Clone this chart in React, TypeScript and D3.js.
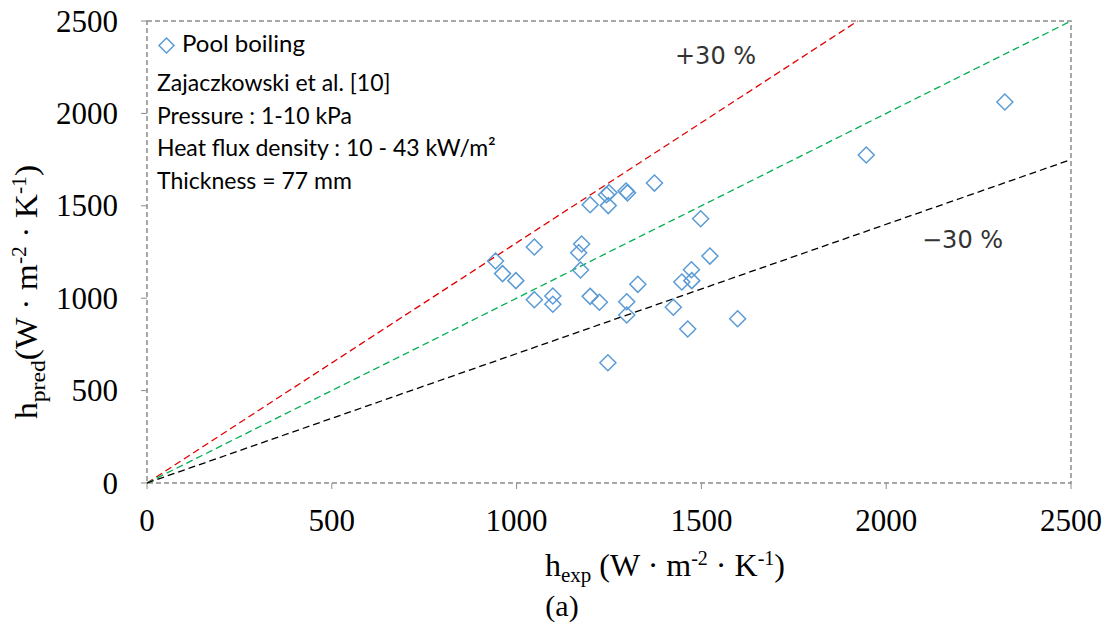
import React from "react";
import * as d3 from "d3";

const hExp = [943, 962, 998, 1048, 1048, 1098, 1098, 1176, 1168, 1173, 1199, 1224, 1199, 1243, 1250, 1248, 1296, 1300, 1373, 1498, 1523, 1473, 1447, 1474, 1328, 1298, 1298, 1424, 1463, 1598, 1247, 1946, 2321];
const hPred = [1201, 1133, 1095, 1277, 992, 1012, 967, 1293, 1246, 1153, 1010, 978, 1506, 1560, 1571, 1501, 1580, 1570, 1623, 1430, 1228, 1154, 1088, 1095, 1075, 981, 909, 951, 833, 889, 651, 1775, 2062];
const ticks = [0, 500, 1000, 1500, 2000, 2500];
const legendLines = ["Zajaczkowski et al. [10]", "Pressure : 1-10 kPa", "Heat flux density : 10 - 43 kW/m²", "Thickness = 77 mm"];
const bands = [
  { k: 1.3, color: "#e00000", label: "+30 %" },
  { k: 1.0, color: "#00b050", label: "" },
  { k: 0.7, color: "#000000", label: "−30 %" },
];

export default function App() {
  const W = 1110, H = 626;
  const x = d3.scaleLinear().domain([0, 2500]).range([147, 1071]);
  const y = d3.scaleLinear().domain([0, 2500]).range([483, 21]);
  const serif = "'Liberation Serif', 'Times New Roman', serif";
  const sans = "Lato, 'Noto Sans', sans-serif";
  const diamond = (cx: number, cy: number, r: number) =>
    `M${cx},${cy - r}L${cx + r},${cy}L${cx},${cy + r}L${cx - r},${cy}Z`;
  return (
    <svg width={W} height={H} style={{ position: "absolute", left: 0, top: 0, background: "#fff" }}>
      {/* frame */}
      <rect x={x(0)} y={y(2500)} width={x(2500) - x(0)} height={y(0) - y(2500)} fill="none" stroke="#8c8c8c" strokeWidth={1.5} strokeDasharray="5,3" />
      {/* ticks */}
      {ticks.map((t) => (
        <g key={"t" + t}>
          <line x1={x(t)} x2={x(t)} y1={y(0)} y2={y(0) + 6} stroke="#8c8c8c" strokeWidth={1} />
          <line x1={x(0) - 6} x2={x(0)} y1={y(t)} y2={y(t)} stroke="#8c8c8c" strokeWidth={1} />
          <text x={x(t)} y={y(0) + 48} textAnchor="middle" fontFamily={serif} fontSize={31} fill="#000">{t}</text>
          <text x={118} y={y(t) + 10.5} textAnchor="end" fontFamily={serif} fontSize={31} fill="#000">{t}</text>
        </g>
      ))}
      {/* lines */}
      {bands.map((b) => {
        const xe = Math.min(2500, 2500 / b.k);
        return (
          <line key={b.k} x1={x(0)} y1={y(0)} x2={x(xe)} y2={y(xe * b.k)} stroke={b.color} strokeWidth={1.3} strokeDasharray="7,4" />
        );
      })}
      <text x={675} y={64} fontFamily="'DejaVu Sans', sans-serif" fontSize={24} fill="#333">{bands[0].label}</text>
      <text x={922} y={248} fontFamily="'DejaVu Sans', sans-serif" fontSize={24} fill="#333">{bands[2].label}</text>
      {/* points */}
      {hExp.map((v, i) => (
        <path key={i} d={diamond(x(v), y(hPred[i]), 8)} fill="none" stroke="#5b9bd5" strokeWidth={1.5} />
      ))}
      {/* legend */}
      <path d={diamond(166.5, 45.5, 7.5)} fill="none" stroke="#5b9bd5" strokeWidth={1.5} />
      <text x={182} y={52} fontFamily={sans} fontSize={24} fill="#000">Pool boiling</text>
      {legendLines.map((l, i) => (
        <text key={i} x={157} y={91 + i * 32.5} fontFamily={sans} fontSize={23} fill="#000">{l}</text>
      ))}
      {/* axis titles */}
      <text x={665} y={576} textAnchor="middle" fontFamily={serif} fontSize={32} fill="#000">
        h<tspan fontSize={21} dy={6}>exp</tspan>
        <tspan dy={-6}> (W · m</tspan><tspan fontSize={20} dy={-11}>-2</tspan><tspan dy={11}> · K</tspan><tspan fontSize={20} dy={-11}>-1</tspan><tspan dy={11}>)</tspan>
      </text>
      <text x={562} y={616} textAnchor="middle" fontFamily={serif} fontSize={30} fill="#000">(a)</text>
      <text transform="translate(37,292) rotate(-90) scale(1.08,1)" textAnchor="middle" fontFamily={serif} fontSize={31} fill="#000">
        h<tspan fontSize={22} dy={8}>pred</tspan>
        <tspan dy={-8}>(W · m</tspan><tspan fontSize={20} dy={-11}>-2</tspan><tspan dy={11}> · K</tspan><tspan fontSize={20} dy={-11}>-1</tspan><tspan dy={11}>)</tspan>
      </text>
    </svg>
  );
}
